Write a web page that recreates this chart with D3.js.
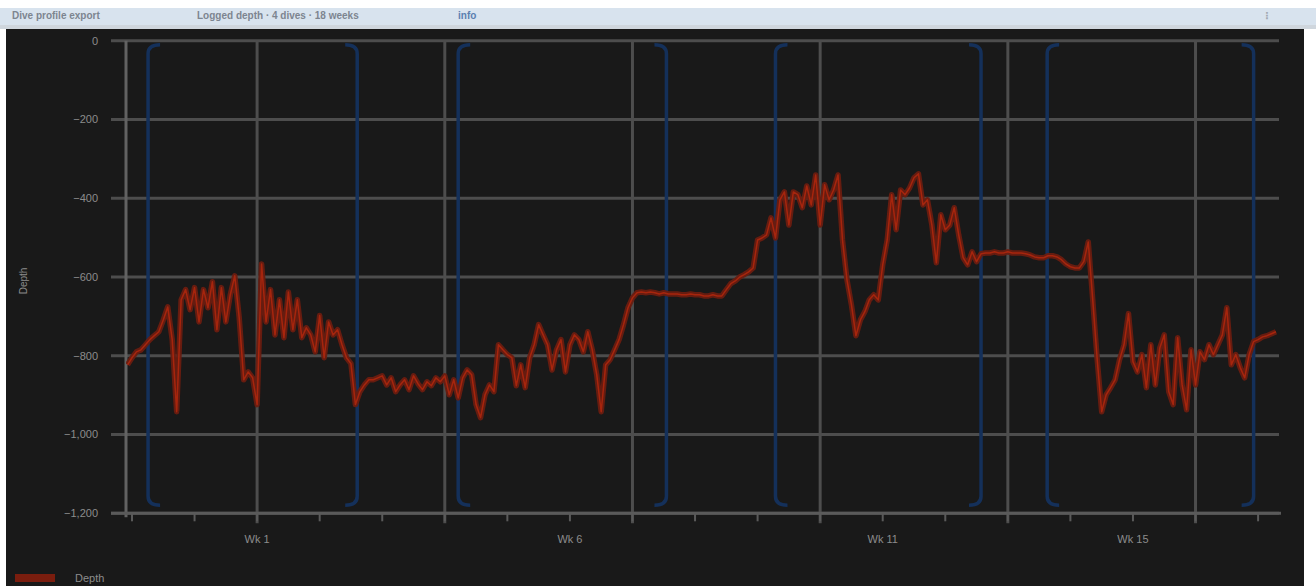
<!DOCTYPE html>
<html>
<head>
<meta charset="utf-8">
<script src="https://cdn.jsdelivr.net/npm/d3@7"></script>
<style>
  html, body { margin: 0; padding: 0; background: #ffffff; }
  svg { display: block; font-family: "Liberation Sans", "DejaVu Sans", sans-serif; }
</style>
</head>
<body>
<svg id="chart" width="1316" height="586"></svg>
<script>
// Logged depth, one reading every half day starting at day -0.5
const startDay = -0.5;
const stepDay = 0.5;
const depth = [
  -823,-805,-790,-785,-772,-759,-749,-739,-709,-676,
  -759,-942,-658,-632,-683,-627,-714,-632,-678,-612,
  -734,-627,-714,-645,-597,-704,-861,-841,-856,-924,
  -567,-714,-632,-747,-658,-754,-638,-734,-658,-754,
  -729,-747,-790,-698,-805,-714,-747,-734,-772,-805,
  -820,-924,-891,-874,-861,-861,-856,-851,-874,-856,
  -891,-874,-861,-886,-851,-871,-886,-866,-876,-856,
  -866,-851,-899,-861,-907,-856,-836,-848,-924,-957,
  -899,-874,-891,-772,-785,-797,-805,-876,-823,-881,
  -805,-772,-721,-747,-772,-836,-785,-759,-841,-772,
  -747,-759,-790,-739,-785,-848,-942,-823,-810,-785,
  -759,-721,-678,-653,-640,-638,-640,-638,-640,-643,
  -640,-643,-643,-643,-645,-645,-643,-645,-645,-648,
  -648,-645,-648,-648,-632,-617,-610,-600,-594,-587,
  -577,-506,-501,-493,-450,-501,-404,-384,-468,-384,
  -391,-424,-369,-417,-341,-468,-366,-404,-379,-341,
  -506,-607,-671,-749,-709,-688,-658,-645,-658,-569,
  -506,-391,-480,-379,-391,-374,-348,-338,-417,-404,
  -468,-564,-442,-480,-468,-424,-493,-551,-569,-536,
  -561,-541,-539,-539,-536,-539,-539,-536,-539,-539,
  -539,-541,-544,-549,-551,-551,-546,-546,-549,-556,
  -567,-574,-577,-577,-561,-511,-658,-810,-942,-899,
  -881,-861,-810,-772,-693,-815,-841,-797,-881,-772,
  -874,-780,-747,-891,-924,-754,-874,-937,-785,-874,
  -790,-810,-772,-797,-772,-747,-678,-823,-797,-830,
  -856,-797,-764,-759,-752,-749,-744,-739
];

// Dive windows (day ranges)
const diveStart = [1.8, 36.5, 72.0, 102.4];
const diveEnd   = [25.2, 59.8, 95.0, 125.5];

// Axis definitions
const xDomain = [-0.67, 128.34];
const yDomain = [-1200, 0];
const yTicks = [0, -200, -400, -600, -800, -1000, -1200];
const weekTickDays = d3.range(0, 127, 7);
const gridDays = [14, 35, 56, 77, 98, 119];
const labelDays = [14, 49, 84, 112];
const labelTexts = ["Wk 1", "Wk 6", "Wk 11", "Wk 15"];

const seriesName = "Depth";
const yTitle = "Depth";

const svg = d3.select("#chart");
const W = 1316, H = 586;

// header strip
svg.append("rect").attr("x", 0).attr("y", 8).attr("width", W).attr("height", 17).attr("fill", "#d8e3ee");
svg.append("rect").attr("x", 0).attr("y", 25).attr("width", W).attr("height", 4).attr("fill", "#cfd6dd");
const hdr = svg.append("g").attr("font-size", 10).attr("font-weight", "bold").attr("fill", "#7d8590");
hdr.append("text").attr("x", 12).attr("y", 19).text("Dive profile export");
hdr.append("text").attr("x", 197).attr("y", 19).text("Logged depth · 4 dives · 18 weeks");
hdr.append("text").attr("x", 458).attr("y", 19).attr("fill", "#5b7fb0").text("info");
hdr.append("text").attr("x", 1262).attr("y", 19).attr("fill", "#a0a8b0").text("⋮");

// dark panel
svg.append("rect").attr("x", 6).attr("y", 29).attr("width", 1298).attr("height", H - 29).attr("fill", "#191919");

const plot = { left: 126, right: 1279, top: 40.7, bottom: 513.3 };

const x = d3.scaleLinear().domain(xDomain).range([plot.left, plot.right]);
const y = d3.scaleLinear().domain(yDomain).range([plot.bottom, plot.top]);

const gridColor = "#4d4d4d";
const fmt = d3.format(",");

// horizontal grid + y labels
const yAxis = svg.append("g");
yAxis.selectAll("line").data(yTicks).join("line")
  .attr("x1", plot.left - 15).attr("x2", plot.right)
  .attr("y1", d => y(d)).attr("y2", d => y(d))
  .attr("stroke", gridColor).attr("stroke-width", 3);
yAxis.selectAll("text").data(yTicks).join("text")
  .attr("x", 98).attr("y", d => y(d)).attr("dy", "0.35em")
  .attr("text-anchor", "end").attr("font-size", 11).attr("fill", "#8c8c8c")
  .text(d => fmt(d));

// vertical major grid
svg.append("g").selectAll("line").data(gridDays).join("line")
  .attr("x1", d => x(d)).attr("x2", d => x(d))
  .attr("y1", plot.top).attr("y2", plot.bottom + 10)
  .attr("stroke", gridColor).attr("stroke-width", 3);

// y axis line
svg.append("line")
  .attr("x1", plot.left).attr("x2", plot.left)
  .attr("y1", plot.top).attr("y2", plot.bottom + 4)
  .attr("stroke", "#626262").attr("stroke-width", 3);

// x axis line and weekly ticks
svg.append("line")
  .attr("x1", plot.left - 15).attr("x2", plot.right + 2)
  .attr("y1", plot.bottom).attr("y2", plot.bottom)
  .attr("stroke", "#5a5a5a").attr("stroke-width", 3);
svg.append("g").selectAll("line").data(weekTickDays).join("line")
  .attr("x1", d => x(d)).attr("x2", d => x(d))
  .attr("y1", plot.bottom).attr("y2", plot.bottom + 8)
  .attr("stroke", "#5a5a5a").attr("stroke-width", 2);
svg.append("g").selectAll("text").data(labelDays).join("text")
  .attr("x", d => x(d)).attr("y", 539).attr("dy", "0.35em")
  .attr("text-anchor", "middle").attr("font-size", 11).attr("fill", "#8c8c8c")
  .text((d, i) => labelTexts[i]);

// y axis title
svg.append("text")
  .attr("transform", `translate(27, ${(plot.top + plot.bottom) / 2 + 4}) rotate(-90)`)
  .attr("text-anchor", "middle").attr("font-size", 10).attr("fill", "#8c8c8c")
  .text(yTitle);

// dive brackets
const inset = 4, r = 9;
const brackets = svg.append("g").attr("fill", "none").attr("stroke", "#14305a").attr("stroke-width", 3.5);
diveStart.forEach((s, i) => {
  const x0 = x(s), x1 = x(diveEnd[i]);
  const t = plot.top + inset, b = plot.bottom - inset - 4;
  brackets.append("path").attr("d",
    `M${x0 + r + 3},${t} Q${x0},${t} ${x0},${t + r} L${x0},${b - r} Q${x0},${b} ${x0 + r + 3},${b}`);
  brackets.append("path").attr("d",
    `M${x1 - r - 3},${t} Q${x1},${t} ${x1},${t + r} L${x1},${b - r} Q${x1},${b} ${x1 - r - 3},${b}`);
});

// depth series: dark wide stroke under a thinner bright one
const pts = depth.map((v, i) => ({ day: startDay + i * stepDay, v }));
svg.append("clipPath").attr("id", "plotClip").append("rect")
  .attr("x", plot.left).attr("y", plot.top).attr("width", plot.right - plot.left).attr("height", plot.bottom - plot.top);
const line = d3.line().x(d => x(d.day)).y(d => y(d.v));
const series = svg.append("g").attr("clip-path", "url(#plotClip)");
series.append("path").datum(pts).attr("d", line)
  .attr("fill", "none").attr("stroke", "#6a1c10").attr("stroke-width", 5.5)
  .attr("stroke-linejoin", "round").attr("opacity", 0.95);
series.append("path").datum(pts).attr("d", line)
  .attr("fill", "none").attr("stroke", "#c2290d").attr("stroke-width", 1.5)
  .attr("stroke-linejoin", "round").attr("opacity", 0.7);

// legend
svg.append("rect").attr("x", 15).attr("y", 574).attr("width", 40).attr("height", 8).attr("fill", "#7a1d0e");
svg.append("text").attr("x", 75).attr("y", 578).attr("dy", "0.35em")
  .attr("font-size", 11).attr("fill", "#8c8c8c").text(seriesName);
</script>
</body>
</html>
